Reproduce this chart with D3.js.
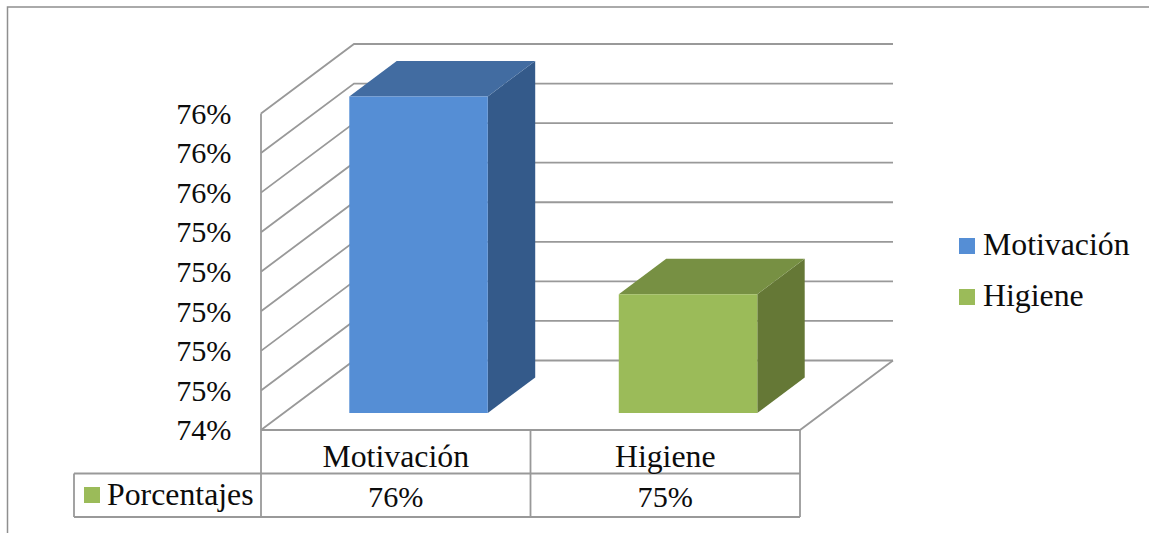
<!DOCTYPE html>
<html><head><meta charset="utf-8">
<script src="https://cdn.jsdelivr.net/npm/d3@7"></script>
<style>html,body{margin:0;padding:0;background:#fff}svg{display:block}text{font-family:"Liberation Serif",serif;fill:#0c0c0c}</style>
</head><body><svg id="c" width="1149" height="533"></svg>
<script>
const categories = ["Motivación", "Higiene"];
const values = [0.76, 0.75];
const yTicks = [0.744, 0.746, 0.748, 0.75, 0.752, 0.754, 0.756, 0.758, 0.76];
const seriesName = "Porcentajes";
const faceColors = ["#558ed5", "#9bbb59"];
const topColors = ["#426ca1", "#779043"];
const sideColors = ["#345a8a", "#657836"];
const gridColor = "#999999";

const svg = d3.select("#c");
const W = { left: 261, right: 800, bottom: 430, top: 113.5, dx: 93, dy: 69.5 };
const x = d3.scaleBand().domain(categories).range([W.left, W.right]);
const y = d3.scaleLinear().domain([0.744, 0.76]).range([W.bottom, W.top]);
const pct = d3.format(".0%");
// oblique projection: depth d in 0..1 goes back and to the right
const P = (px, py, d) => [px + d * W.dx, py - d * W.dy];
const path = pts => "M" + pts.map(p => p.join(",")).join("L");
const fs = 31.8, fsPct = 30.2;

// chart frame
svg.append("path").attr("d", "M1149,7H7.5V533").attr("fill", "none").attr("stroke", "#8f8f8f").attr("stroke-width", 1.5);

// walls and gridlines
const g = svg.append("g").attr("fill", "none").attr("stroke", gridColor).attr("stroke-width", 1.8);
yTicks.forEach(t => {
  g.append("path").attr("d", path([[W.left, y(t)], P(W.left, y(t), 1), P(W.right, y(t), 1)]));
});
g.append("path").attr("d", path([[W.left, y(yTicks[8])], [W.left, W.bottom]]));
g.append("path").attr("d", path([[W.left, W.bottom], [W.right, W.bottom], P(W.right, W.bottom, 1)]));

// value axis labels
svg.append("g").selectAll("text").data(yTicks).join("text")
  .attr("x", 231.5).attr("y", d => y(d) + 10.2).attr("text-anchor", "end")
  .attr("font-size", fsPct).text(d => pct(d));

// bars
const depth0 = 0.245, depth1 = 0.755, barW = 138.5;
const bars = svg.append("g").selectAll("g").data(categories).join("g");
bars.each(function (c, i) {
  const b = d3.select(this);
  const l = x(c) + (x.bandwidth() - barW) / 2, r = l + barW;
  const t = y(values[i]), bt = y.range()[0];
  const F = (px, py) => P(px, py, depth0), B = (px, py) => P(px, py, depth1);
  b.append("path").attr("fill", sideColors[i]).attr("d", path([F(r, t), B(r, t), B(r, bt), F(r, bt)]) + "Z");
  b.append("path").attr("fill", topColors[i]).attr("d", path([F(l, t), B(l, t), B(r, t), F(r, t)]) + "Z");
  b.append("path").attr("fill", faceColors[i]).attr("d", path([F(l, t), F(r, t), F(r, bt), F(l, bt)]) + "Z");
});

// data table
const rowMid = 473.5, rowBot = 517, tblLeft = 74;
const tb = svg.append("g").attr("fill", "none").attr("stroke", gridColor).attr("stroke-width", 1.8);
tb.append("path").attr("d", `M${tblLeft},${rowMid}H${W.right}M${tblLeft},${rowBot}H${W.right}M${tblLeft},${rowMid}V${rowBot}`);
[W.left, x(categories[1]), W.right].forEach(v => tb.append("path").attr("d", `M${v},${W.bottom}V${rowBot}`));
categories.forEach((c, i) => {
  const cx = x(c) + x.bandwidth() / 2;
  svg.append("text").attr("x", cx).attr("y", 466.5).attr("text-anchor", "middle").attr("font-size", fs).text(c);
  svg.append("text").attr("x", cx).attr("y", 506.5).attr("text-anchor", "middle").attr("font-size", fsPct).text(pct(values[i]));
});
svg.append("rect").attr("x", 84).attr("y", 487).attr("width", 16).attr("height", 16).attr("fill", faceColors[1]);
svg.append("text").attr("x", 107).attr("y", 504.5).attr("font-size", fs).text(seriesName);

// legend
categories.forEach((c, i) => {
  const ly = 238 + i * 51;
  svg.append("rect").attr("x", 959).attr("y", ly).attr("width", 16).attr("height", 16).attr("fill", faceColors[i]);
  svg.append("text").attr("x", 983).attr("y", ly + 16.5).attr("font-size", fs).text(c);
});
</script></body></html>
